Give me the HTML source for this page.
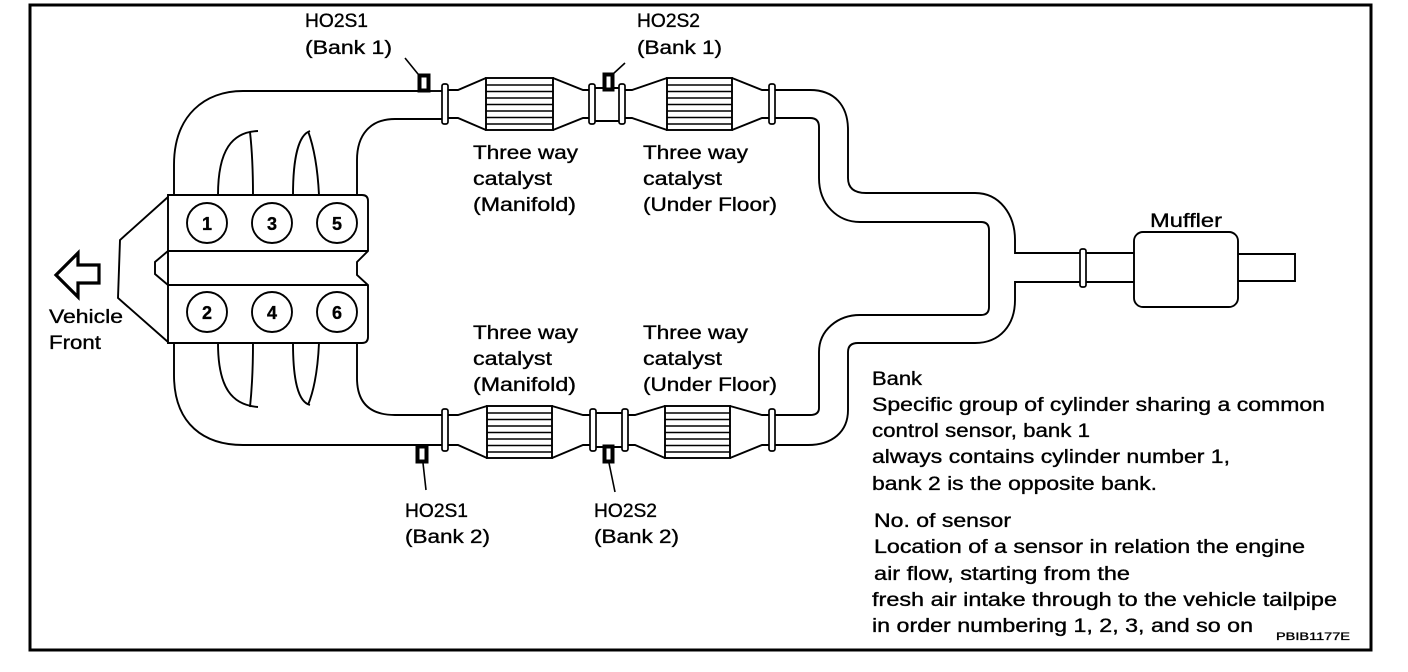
<!DOCTYPE html>
<html><head><meta charset="utf-8"><style>
html,body{margin:0;padding:0;background:#fff;}
svg{display:block;}
text{font-family:"Liberation Sans",Arial,sans-serif;fill:#000;stroke:#000;stroke-width:0.35;}
</style></head><body>
<svg width="1408" height="672" viewBox="0 0 1408 672" xmlns="http://www.w3.org/2000/svg">
<rect x="30" y="5" width="1341" height="645" fill="none" stroke="#000" stroke-width="3"/>

<g fill="none" stroke="#000" stroke-width="1.9">
<path d="M168,197 L120,240 L118,298 L168,342"/>
<path d="M168,195 L362,195 Q368,195 368,201 L368,251 L357,262 L357,275 L368,285 L368,337 Q368,343 362,343 L168,343 Z"/>
<path d="M168,251 L155,262 L155,274 L168,285 M168,251 L368,251 M168,285 L368,285"/>
<circle cx="207" cy="223" r="20"/><circle cx="272" cy="223" r="20"/><circle cx="337" cy="223" r="20"/>
<circle cx="207" cy="312" r="20"/><circle cx="272" cy="312" r="20"/><circle cx="337" cy="312" r="20"/>

<path d="M174,195 L174,165 C174,115 205,91 243,91 L418,91"/>
<path d="M357,195 L357,160 C357,135 370,119 395,119 L442,119"/>
<path d="M218,195 C218,150 232,132 258,131 M250,132 C252,150 253,175 253,195"/>
<path d="M293,195 C293,160 298,135 310,131 M308,131 C315,150 318,175 319,195"/>
<path d="M174,343 L174,375 C174,425 205,445 243,445 L442,445"/>
<path d="M357,343 L357,378 C357,403 370,415 395,415 L442,415"/>
<path d="M218,343 C218,388 232,405 258,407 M250,407 C252,388 253,365 253,343"/>
<path d="M293,343 C293,380 298,402 310,405 M308,405 C315,388 318,365 319,343"/>

<path d="M430,91 L442,91"/>
<path d="M448,90 L458,90 L486,78 M448,118 L458,118 L486,130"/>
<path d="M553,78 L583,90 L589,90 M553,130 L583,118 L589,118"/>
<path d="M595,88 L619,88 M595,121 L619,121"/>
<path d="M625,90 L632,90 L667,78 M625,118 L632,118 L667,130"/>
<path d="M732,78 L762,90 L769,90 M732,130 L762,118 L769,118"/>
<path d="M448,415 L458,415 L487,406 M448,445 L458,445 L487,458"/>
<path d="M552,406 L583,415 L590,415 M552,458 L583,445 L590,445"/>
<path d="M596,413 L622,413 M596,447 L622,447"/>
<path d="M628,415 L635,415 L665,406 M628,445 L635,445 L665,458"/>
<path d="M730,406 L762,415 L769,415 M730,458 L762,445 L769,445"/>

<path d="M775,90 L810,90 C834,90 848,105 848,130 L848,178 C848,188 854,193 866,193 L975,193 C1000,193 1015,215 1015,240 L1015,253 L1080,253"/>
<path d="M775,118 L810,118 Q819,118 819,127 L819,178 C819,205 838,222 860,222 L981,222 Q989,222 989,230 L989,307 Q989,315 981,315 L860,315 C838,315 819,330 819,352 L819,408 Q819,415 810,415 L775,415"/>
<path d="M775,445 L808,445 C832,445 848,432 848,410 L848,352 Q848,343 858,343 L975,343 C1000,343 1015,325 1015,300 L1015,282 L1080,282"/>
<path d="M1086,253 L1134,253 M1086,282 L1134,282"/>
<rect x="1134" y="232" width="104" height="75" rx="9"/>
<path d="M1238,254 L1295,254 L1295,281 L1238,281"/>
</g>

<g fill="#fff" stroke="#000" stroke-width="1.9">
<rect x="486" y="78" width="67" height="52"/>
<rect x="667" y="78" width="65" height="52"/>
<rect x="487" y="406" width="65" height="52"/>
<rect x="665" y="406" width="65" height="52"/>
</g>
<g stroke="#000" stroke-width="1.5">
<path d="M486,85H553M486,91.5H553M486,98H553M486,104.5H553M486,111H553M486,117.5H553M486,124H553"/>
<path d="M667,85H732M667,91.5H732M667,98H732M667,104.5H732M667,111H732M667,117.5H732M667,124H732"/>
<path d="M487,413H552M487,419.5H552M487,426H552M487,432.5H552M487,439H552M487,445.5H552M487,452H552"/>
<path d="M665,413H730M665,419.5H730M665,426H730M665,432.5H730M665,439H730M665,445.5H730M665,452H730"/>
</g>

<g fill="#fff" stroke="#000" stroke-width="1.7">
<rect x="442" y="84" width="6" height="40" rx="2"/>
<rect x="589" y="84" width="6" height="40" rx="2"/>
<rect x="619" y="84" width="6" height="40" rx="2"/>
<rect x="769" y="84" width="6" height="40" rx="2"/>
<rect x="442" y="409" width="6" height="42" rx="2"/>
<rect x="590" y="409" width="6" height="42" rx="2"/>
<rect x="622" y="409" width="6" height="42" rx="2"/>
<rect x="769" y="409" width="6" height="42" rx="2"/>
<rect x="1080" y="249" width="6" height="38" rx="2"/>
</g>

<g fill="#fff" stroke="#000" stroke-width="4">
<rect x="419.5" y="75.5" width="9" height="15"/>
<rect x="604.5" y="74.5" width="8" height="15"/>
<rect x="417.5" y="446.5" width="9" height="15"/>
<rect x="604.5" y="446.5" width="8" height="15"/>
</g>
<g stroke="#000" stroke-width="1.6" fill="none">
<path d="M405,58 L418,74"/>
<path d="M625,63 L613,74"/>
<path d="M423,463 L426,490"/>
<path d="M609,463 L615,492"/>
</g>

<path d="M56,275 L78,253 L78,265 L99,265 L99,283 L78,283 L78,297 Z" fill="#fff" stroke="#000" stroke-width="3.2"/>

<g font-size="18" font-weight="bold" text-anchor="middle">
<text x="207" y="230">1</text><text x="272" y="230">3</text><text x="337" y="230">5</text>
<text x="207" y="319">2</text><text x="272" y="319">4</text><text x="337" y="319">6</text>
</g>

<g font-size="19">
<text x="305" y="27" textLength="63" lengthAdjust="spacingAndGlyphs">HO2S1</text>
<text x="305" y="54" textLength="87" lengthAdjust="spacingAndGlyphs">(Bank 1)</text>
<text x="637" y="27" textLength="63" lengthAdjust="spacingAndGlyphs">HO2S2</text>
<text x="637" y="54" textLength="85" lengthAdjust="spacingAndGlyphs">(Bank 1)</text>
<text x="405" y="517" textLength="63" lengthAdjust="spacingAndGlyphs">HO2S1</text>
<text x="405" y="543" textLength="85" lengthAdjust="spacingAndGlyphs">(Bank 2)</text>
<text x="594" y="517" textLength="63" lengthAdjust="spacingAndGlyphs">HO2S2</text>
<text x="594" y="543" textLength="85" lengthAdjust="spacingAndGlyphs">(Bank 2)</text>

<text x="473" y="159" textLength="105" lengthAdjust="spacingAndGlyphs">Three way</text>
<text x="473" y="185" textLength="79" lengthAdjust="spacingAndGlyphs">catalyst</text>
<text x="473" y="211" textLength="103" lengthAdjust="spacingAndGlyphs">(Manifold)</text>
<text x="643" y="159" textLength="105" lengthAdjust="spacingAndGlyphs">Three way</text>
<text x="643" y="185" textLength="79" lengthAdjust="spacingAndGlyphs">catalyst</text>
<text x="643" y="211" textLength="134" lengthAdjust="spacingAndGlyphs">(Under Floor)</text>
<text x="473" y="339" textLength="105" lengthAdjust="spacingAndGlyphs">Three way</text>
<text x="473" y="365" textLength="79" lengthAdjust="spacingAndGlyphs">catalyst</text>
<text x="473" y="391" textLength="103" lengthAdjust="spacingAndGlyphs">(Manifold)</text>
<text x="643" y="339" textLength="105" lengthAdjust="spacingAndGlyphs">Three way</text>
<text x="643" y="365" textLength="79" lengthAdjust="spacingAndGlyphs">catalyst</text>
<text x="643" y="391" textLength="134" lengthAdjust="spacingAndGlyphs">(Under Floor)</text>

<text x="49" y="323" textLength="74" lengthAdjust="spacingAndGlyphs">Vehicle</text>
<text x="49" y="349" textLength="52" lengthAdjust="spacingAndGlyphs">Front</text>
<text x="1150" y="227" textLength="72" lengthAdjust="spacingAndGlyphs">Muffler</text>

<text x="872" y="385" textLength="50" lengthAdjust="spacingAndGlyphs">Bank</text>
<text x="872" y="411" textLength="453" lengthAdjust="spacingAndGlyphs">Specific group of cylinder sharing a common</text>
<text x="872" y="437" textLength="218" lengthAdjust="spacingAndGlyphs">control sensor, bank 1</text>
<text x="872" y="463" textLength="358" lengthAdjust="spacingAndGlyphs">always contains cylinder number 1,</text>
<text x="872" y="490" textLength="285" lengthAdjust="spacingAndGlyphs">bank 2 is the opposite bank.</text>

<text x="874" y="527" textLength="137" lengthAdjust="spacingAndGlyphs">No. of sensor</text>
<text x="874" y="553" textLength="431" lengthAdjust="spacingAndGlyphs">Location of a sensor in relation the engine</text>
<text x="874" y="580" textLength="256" lengthAdjust="spacingAndGlyphs">air flow, starting from the</text>
<text x="872" y="606" textLength="465" lengthAdjust="spacingAndGlyphs">fresh air intake through to the vehicle tailpipe</text>
<text x="872" y="632" textLength="381" lengthAdjust="spacingAndGlyphs">in order numbering 1, 2, 3, and so on</text>
</g>
<text x="1276" y="640" font-size="11" textLength="74" lengthAdjust="spacingAndGlyphs">PBIB1177E</text>
</svg>
</body></html>
